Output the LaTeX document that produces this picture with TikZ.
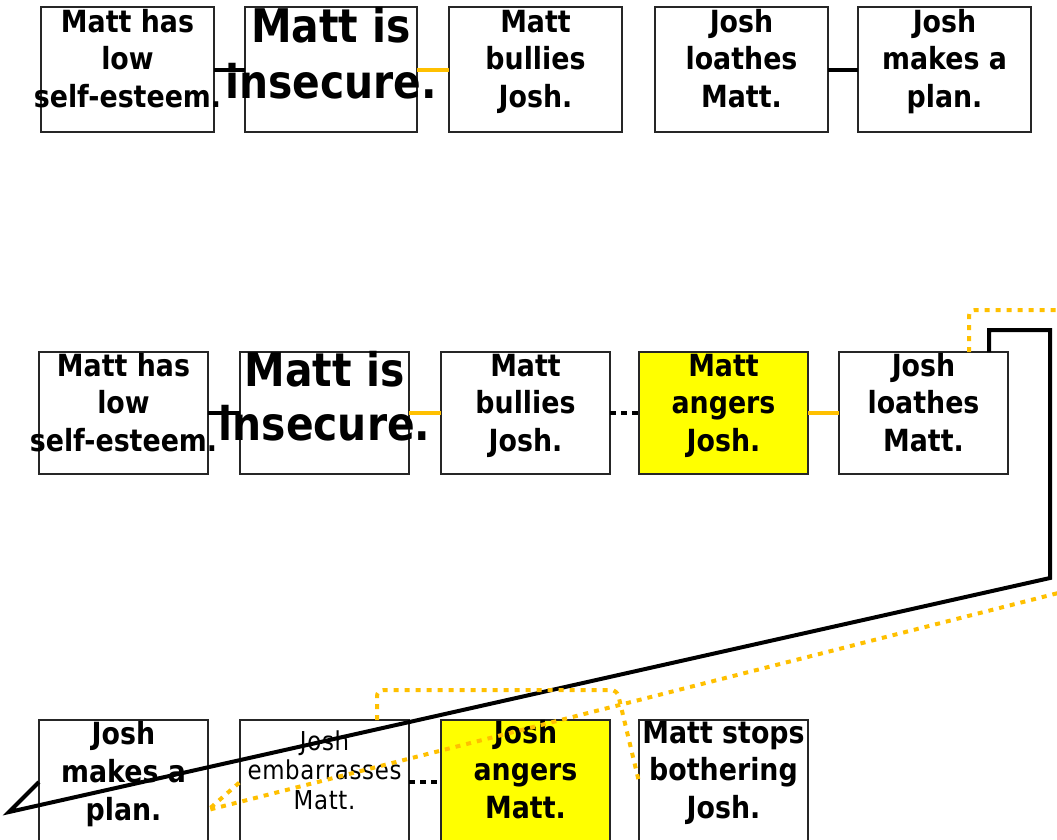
\documentclass[tikz,border=0pt]{standalone}
\usepackage{fontspec}
\setmainfont{DejaVu Sans}
\newfontfamily\cardfont[FakeStretch=0.88]{DejaVu Sans}
\newfontfamily\thincardfont[FakeStretch=0.88,LetterSpace=2.6]{DejaVu Sans}
\usetikzlibrary{calc}

\definecolor{linkgold}{RGB}{255,192,0}
\definecolor{hotyellow}{RGB}{255,255,0}

% one centred line of a card; wide lines spill out evenly on both sides
\newcommand\cardline[1]{\makebox[\linewidth][c]{\smash{#1}}\par}
% card body: width, height, first-baseline drop, line pitch, lines
\newcommand\cardbody[5]{\parbox[c][#2][t]{#1}{\baselineskip=#4\relax
  \lineskiplimit=-100pt\rule{0pt}{#3}#5}}

\tikzset{
  card/.style={draw=black!85, line width=1.5pt, fill=white, inner sep=0pt,
    outer sep=0pt, anchor=north west,
    font=\cardfont\fontsize{30.5pt}{37.5pt}\selectfont\bfseries},
  hotcard/.style={card, fill=hotyellow},
  bigcard/.style={card, font=\cardfont\fontsize{46.4pt}{56pt}\selectfont\bfseries},
  smallcard/.style={card, font=\thincardfont\fontsize{26pt}{29.5pt}\selectfont},
  wire/.style={line width=4pt, black},
  goldwire/.style={line width=4pt, linkgold},
  dotwire/.style={line width=4pt, black, dash pattern=on 6pt off 5pt},
  golddash/.style={line width=4pt, linkgold, dash pattern=on 5pt off 6pt},
}

\begin{document}
\begin{tikzpicture}[x=1pt, y=-1pt]
\useasboundingbox (0,0) rectangle (1057,839);

% first chain
\node[card] (A1) at (41,7) {\cardbody{173pt}{125pt}{25pt}{37.5pt}{\cardline{Matt has}\cardline{low}\cardline{self-esteem.}}};
\node[bigcard] (A2) at (245,7) {\cardbody{172pt}{125pt}{35pt}{56pt}{\cardline{Matt is}\cardline{insecure.}}};
\node[card] (A3) at (449,7) {\cardbody{173pt}{125pt}{25pt}{37.5pt}{\cardline{Matt}\cardline{bullies}\cardline{Josh.}}};
\node[card] (A4) at (655,7) {\cardbody{173pt}{125pt}{25pt}{37.5pt}{\cardline{Josh}\cardline{loathes}\cardline{Matt.}}};
\node[card] (A5) at (858,7) {\cardbody{173pt}{125pt}{25pt}{37.5pt}{\cardline{Josh}\cardline{makes a}\cardline{plan.}}};

% second chain
\node[card] (B1) at (39,352) {\cardbody{169pt}{122pt}{24pt}{37.5pt}{\cardline{Matt has}\cardline{low}\cardline{self-esteem.}}};
\node[bigcard] (B2) at (240,352) {\cardbody{169pt}{122pt}{34pt}{54pt}{\cardline{Matt is}\cardline{insecure.}}};
\node[card] (B3) at (441,352) {\cardbody{169pt}{122pt}{24pt}{37.5pt}{\cardline{Matt}\cardline{bullies}\cardline{Josh.}}};
\node[hotcard] (B4) at (639,352) {\cardbody{169pt}{122pt}{24pt}{37.5pt}{\cardline{Matt}\cardline{angers}\cardline{Josh.}}};
\node[card] (B5) at (839,352) {\cardbody{169pt}{122pt}{24pt}{37.5pt}{\cardline{Josh}\cardline{loathes}\cardline{Matt.}}};

% third chain
\node[card] (C1) at (39,720) {\cardbody{169pt}{124pt}{24pt}{38pt}{\cardline{Josh}\cardline{makes a}\cardline{plan.}}};
\node[smallcard] (C2) at (240,720) {\cardbody{169pt}{124pt}{30pt}{29.5pt}{\cardline{Josh}\cardline{embarrasses}\cardline{Matt.}}};
\node[hotcard] (C3) at (441,720) {\cardbody{169pt}{124pt}{23pt}{37.5pt}{\cardline{Josh}\cardline{angers}\cardline{Matt.}}};
\node[card] (C4) at (639,720) {\cardbody{169pt}{124pt}{23pt}{37.5pt}{\cardline{Matt stops}\cardline{bothering}\cardline{Josh.}}};

% links inside the chains
\draw[wire] (A1.east) -- (A2.west);
\draw[goldwire] (A2.east) -- (A3.west);
\draw[wire] (A4.east) -- (A5.west);
\draw[wire] (B1.east) -- (B2.west);
\draw[goldwire] (B2.east) -- (B3.west);
\draw[dotwire] (B3.east) -- (B4.west);
\draw[goldwire] (B4.east) -- (B5.west);
\draw[dotwire] (C2.east) -- (C3.west);

% long links from the second chain down to the third
\draw[wire] ($(B5.north east)+(-19,0)$) |- (1050,330) -- (1050,578)
  -- (9,812) -- (C1.west);
\draw[golddash] ($(B5.north east)+(-39,0)$) [rounded corners=6pt] |- (1070,310)
  -- (1070,590) [sharp corners] -- (208,810) -- (C2.west);
\draw[golddash] ($(C2.north east)+(-32,0)$) [rounded corners=6pt] |- (617,690)
  -- (C4.west);
\end{tikzpicture}
\end{document}
